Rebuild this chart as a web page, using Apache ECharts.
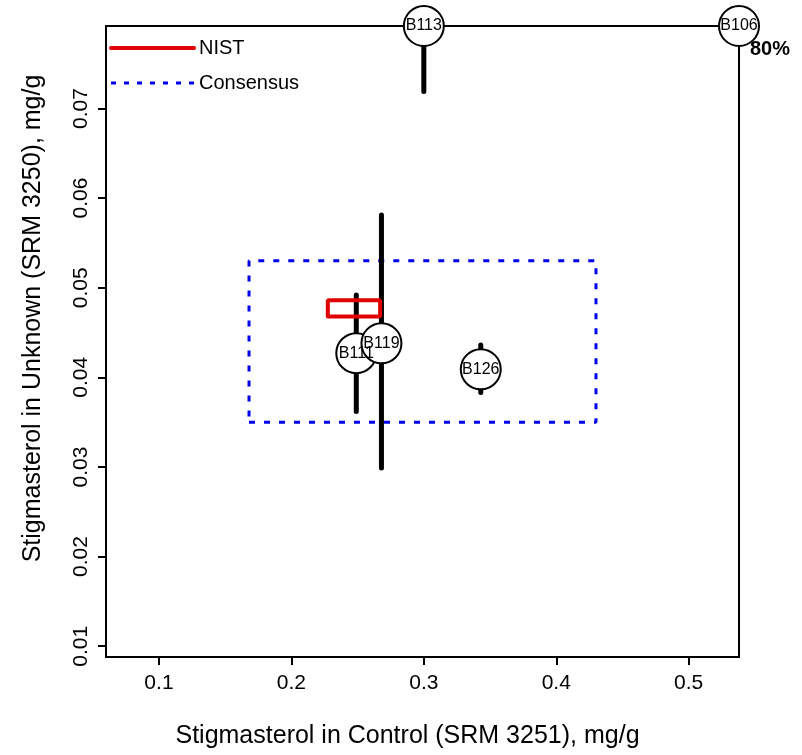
<!DOCTYPE html>
<html>
<head>
<meta charset="utf-8">
<script src="https://cdn.jsdelivr.net/npm/echarts@6/dist/echarts.min.js"></script>
<style>
  html, body { margin: 0; padding: 0; background: #fff; }
  #chart { width: 802px; height: 755px; }
</style>
</head>
<body>
<div id="chart"></div>
<script>
// lab results, off-scale values get pinned to the frame
const labs = ['B111', 'B119', 'B126', 'B113', 'B106']
const ctrl = [0.249, 0.268, 0.343, 0.300, 0.60]
const unk = [0.0427, 0.0438, 0.0409, 0.085, 0.09]
const unkLo = [0.0362, 0.0299, 0.0383, 0.0719, null]
const unkHi = [0.0492, 0.0581, 0.0436, 0.095, null]

// NIST and consensus boxes [xlo, xhi, ylo, yhi]
const nistBox = [0.2275, 0.267, 0.0468, 0.0486]
const consBox = [0.168, 0.430, 0.035, 0.053]

const xTicks = [0.1, 0.2, 0.3, 0.4, 0.5]
const yTicks = [0.01, 0.02, 0.03, 0.04, 0.05, 0.06, 0.07]
const coverage = '80%'

const X_MIN = 0.06
const X_MAX = 0.538
const Y_MIN = 0.0088
const Y_MAX = 0.0792

const font = 'Liberation Sans, Arial, sans-serif'

function boxPath (b) {
  return [[b[0], b[2]], [b[1], b[2]], [b[1], b[3]], [b[0], b[3]], [b[0], b[2]]]
}

const series = []
series.push({
  name: 'Consensus',
  type: 'line',
  symbol: 'none',
  silent: true,
  z: 2,
  lineStyle: { color: '#0000ee', width: 3, type: [6, 9] },
  itemStyle: { color: '#0000ee' },
  data: boxPath(consBox)
})
labs.forEach((lab, i) => {
  if (unkLo[i] == null) return
  series.push({
    name: 'bar_' + lab,
    type: 'line',
    symbol: 'none',
    silent: true,
    z: 3,
    lineStyle: { color: '#000', width: 5, cap: 'round' },
    data: [[ctrl[i], unkLo[i]], [ctrl[i], unkHi[i]]]
  })
})
series.push({
  name: 'NIST',
  type: 'line',
  symbol: 'none',
  silent: true,
  z: 4,
  lineStyle: { color: '#e00000', width: 4, cap: 'round' },
  itemStyle: { color: '#e00000' },
  data: boxPath(nistBox)
})
series.push({
  name: 'labs',
  type: 'scatter',
  clip: false,
  z: 5,
  symbolSize: 40,
  itemStyle: { color: '#fff', borderColor: '#000', borderWidth: 2, opacity: 1 },
  label: {
    show: true,
    position: 'inside',
    formatter: '{b}',
    color: '#000',
    fontFamily: font,
    fontSize: 16
  },
  data: labs.map((lab, i) => ({
    name: lab,
    value: [Math.min(ctrl[i], X_MAX), Math.min(unk[i], Y_MAX)]
  }))
})
series.push({
  name: 'cov',
  type: 'scatter',
  clip: false,
  z: 5,
  symbolSize: 0,
  itemStyle: { opacity: 1 },
  label: {
    show: true,
    position: 'right',
    offset: [6, 23],
    formatter: coverage,
    color: '#000',
    fontFamily: font,
    fontSize: 20,
    fontWeight: 'bold'
  },
  data: [[X_MAX, Y_MAX]]
})

const chart = echarts.init(document.getElementById('chart'))
chart.setOption({
  animation: false,
  backgroundColor: '#fff',
  grid: {
    left: 106,
    right: 63,
    top: 26,
    bottom: 98,
    show: true,
    borderColor: '#000',
    borderWidth: 2
  },
  legend: {
    data: [
      { name: 'NIST', lineStyle: { width: 4, cap: 'round' } },
      { name: 'Consensus', lineStyle: { width: 3, type: [5, 8] } }
    ],
    orient: 'vertical',
    left: 109,
    top: 38,
    padding: 0,
    itemWidth: 83,
    itemHeight: 20,
    itemGap: 15,
    itemStyle: { opacity: 0 },
    textStyle: { fontFamily: font, fontSize: 20, color: '#000' }
  },
  xAxis: {
    type: 'value',
    min: X_MIN,
    max: X_MAX,
    name: 'Stigmasterol in Control (SRM 3251), mg/g',
    nameLocation: 'middle',
    nameGap: 67,
    nameTextStyle: { fontFamily: font, fontSize: 25, color: '#000', padding: [0, 30, 0, 0] },
    splitLine: { show: false },
    axisLine: { show: false },
    axisTick: { show: true, length: 8, lineStyle: { color: '#000', width: 2 }, customValues: xTicks },
    axisLabel: { fontFamily: font, fontSize: 21, color: '#000', margin: 16, customValues: xTicks }
  },
  yAxis: {
    type: 'value',
    min: Y_MIN,
    max: Y_MAX,
    name: 'Stigmasterol in Unknown (SRM 3250), mg/g',
    nameLocation: 'middle',
    nameRotate: 90,
    nameGap: 60,
    nameTextStyle: { fontFamily: font, fontSize: 25, color: '#000', padding: [0, 0, 0, 46] },
    splitLine: { show: false },
    axisLine: { show: false },
    axisTick: { show: true, length: 8, lineStyle: { color: '#000', width: 2 }, customValues: yTicks },
    axisLabel: { fontFamily: font, fontSize: 21, color: '#000', margin: 14, rotate: 90, customValues: yTicks }
  },
  series: series
})
</script>
</body>
</html>
